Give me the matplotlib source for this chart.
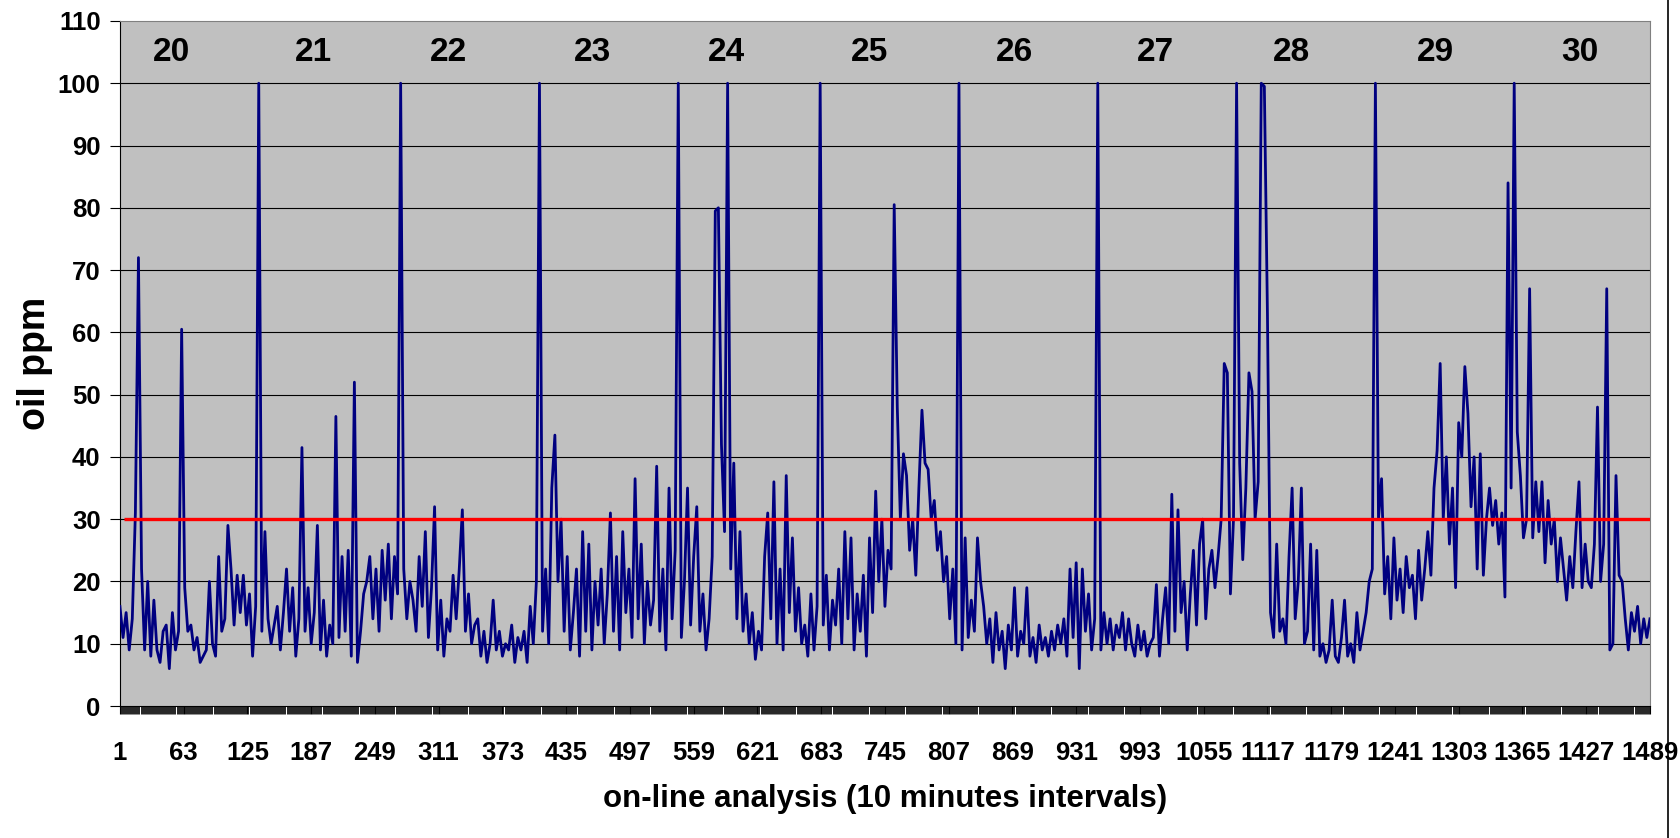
import matplotlib
matplotlib.use('Agg')
import matplotlib.pyplot as plt
from matplotlib.ticker import FixedLocator
from matplotlib.lines import Line2D
import numpy as np

plt.rcParams['font.family'] = ['Liberation Sans', 'DejaVu Sans']
plt.rcParams['font.weight'] = 'bold'

# one reading every 3rd interval (1, 4, 7, ... 1489)
oil_ppm = [
    16, 11, 15, 9, 14, 31, 72, 22, 9, 20,
    8, 17, 9, 7, 12, 13, 6, 15, 9, 12,
    60.5, 19, 12, 13, 9, 11, 7, 8, 9, 20,
    10, 8, 24, 12, 14, 29, 22, 13, 21, 15,
    21, 13, 18, 8, 16, 100, 12, 28, 14, 10,
    13, 16, 9, 15, 22, 12, 19, 8, 14, 41.5,
    12, 19, 10, 15, 29, 9, 17, 8, 13, 10,
    46.5, 11, 24, 12, 25, 8, 52, 7, 12, 18,
    20, 24, 14, 22, 12, 25, 17, 26, 14, 24,
    18, 100, 22, 14, 20, 17, 12, 24, 16, 28,
    11, 19, 32, 9, 17, 8, 14, 12, 21, 14,
    22, 31.5, 12, 18, 10, 13, 14, 8, 12, 7,
    10, 17, 9, 12, 8, 10, 9, 13, 7, 11,
    9, 12, 7, 16, 10, 20, 100, 12, 22, 10,
    35, 43.5, 20, 30, 12, 24, 9, 15, 22, 8,
    28, 12, 26, 9, 20, 13, 22, 10, 18, 31,
    12, 24, 9, 28, 15, 22, 11, 36.5, 14, 26,
    10, 20, 13, 17, 38.5, 12, 22, 9, 35, 14,
    25, 100, 11, 20, 35, 13, 24, 32, 12, 18,
    9, 14, 24, 79.5, 80, 42, 28, 100, 22, 39,
    14, 28, 12, 18, 10, 15, 7.5, 12, 9, 24,
    31, 14, 36, 10, 22, 9, 37, 15, 27, 12,
    19, 10, 13, 8, 18, 9, 16, 100, 13, 21,
    9, 17, 13, 22, 10, 28, 14, 27, 9, 18,
    12, 21, 8, 27, 15, 34.5, 20, 30, 16, 25,
    22, 80.5, 48, 30, 40.5, 37, 25, 30, 21, 35,
    47.5, 39, 38, 30, 33, 25, 28, 20, 24, 14,
    22, 10, 100, 9, 27, 11, 17, 12, 27, 20,
    16, 10, 14, 7, 15, 9, 12, 6, 13, 9,
    19, 8, 12, 10, 19, 8, 11, 7, 13, 9,
    11, 8, 12, 9, 13, 10, 14, 8, 22, 11,
    23, 6, 22, 12, 18, 9, 14, 100, 9, 15,
    10, 14, 9, 13, 11, 15, 9, 14, 10, 8,
    13, 9, 12, 8, 10, 11, 19.5, 8, 14, 19,
    10, 34, 12, 31.5, 15, 20, 9, 18, 25, 13,
    26, 30, 14, 22, 25, 19, 24, 30, 55, 53.5,
    18, 30, 100, 39, 23.5, 35, 53.5, 50.5, 30, 36,
    100, 99.5, 63, 15, 11, 26, 12, 14, 10, 24,
    35, 14, 20, 35, 10, 12, 26, 9, 25, 8,
    10, 7, 9, 17, 8, 7, 11, 17, 8, 10,
    7, 15, 9, 12, 15, 20, 22, 100, 30, 36.5,
    18, 24, 14, 27, 17, 22, 15, 24, 19, 21,
    14, 25, 17, 22, 28, 21, 35, 41, 55, 30,
    40, 26, 35, 19, 45.5, 40, 54.5, 47, 32, 40,
    22, 40.5, 21, 30, 35, 29, 33, 26, 31, 17.5,
    84, 35, 100, 44, 37, 27, 30, 67, 27, 36,
    28, 36, 23, 33, 26, 30, 20, 27, 22, 17,
    24, 19, 28, 36, 19, 26, 20, 19, 26, 48,
    20, 26, 67, 9, 10, 37, 21, 20, 14, 9,
    15, 12, 16, 10, 14, 11, 14,
]
interval = list(range(1, 1490, 3))

limit_ppm = 30
day_labels = ['20', '21', '22', '23', '24', '25', '26', '27', '28', '29', '30']
day_pos = [51, 189, 321, 461, 591, 730, 871, 1008, 1140, 1280, 1421]
xtick_labels = list(range(1, 1490, 62))

fig = plt.figure(figsize=(16.8, 8.38), dpi=100)
ax = fig.add_axes([0.0714, 0.1575, 0.9107, 0.8175])
ax.set_facecolor('#C0C0C0')

ax.plot(interval, oil_ppm, color='#000080', lw=2.0, zorder=3)
ax.hlines(limit_ppm, 5, 1489, color='#FF0000', lw=2.4, zorder=4)

for y in range(10, 110, 10):
    ax.axhline(y, color='black', lw=0.8, zorder=1)

for lab, xp in zip(day_labels, day_pos):
    ax.text(xp, 105, lab, ha='center', va='center', fontsize=24, fontweight='bold')

ax.set_xlim(1, 1489)
ax.set_ylim(0, 110)
ax.set_yticks(range(0, 111, 10))
ax.set_xticks(xtick_labels)
ax.xaxis.set_minor_locator(FixedLocator(np.arange(1, 1490)))
ax.tick_params(axis='x', which='major', length=6, width=0.8, pad=19, labelsize=18.5)
ax.tick_params(axis='x', which='minor', length=6, width=0.6, color='black')
ax.tick_params(axis='y', length=7, width=0.8, pad=7, labelsize=18.5)

for s in ['top', 'right']:
    ax.spines[s].set_color('#808080')
ax.spines['left'].set_color('black')
ax.spines['bottom'].set_color('black')

ax.set_ylabel('oil ppm', fontsize=27, fontweight='bold')
ax.yaxis.set_label_coords(-0.044, 0.5)
ax.set_xlabel('on-line analysis (10 minutes intervals)', fontsize=22.5,
              fontweight='bold', labelpad=14)

fig.add_artist(Line2D([0.9929, 0.9929], [0, 1], color='black', lw=1.2,
                      transform=fig.transFigure))

fig.savefig('out.png', dpi=100)
